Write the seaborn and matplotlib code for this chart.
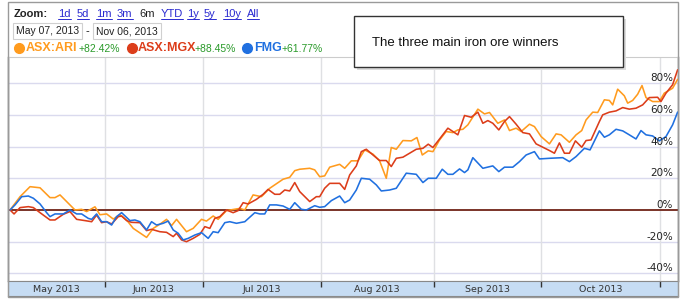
import matplotlib
matplotlib.use("Agg")
import matplotlib.pyplot as plt
import matplotlib.transforms as mtransforms
from matplotlib.patches import Rectangle
from matplotlib.lines import Line2D
import pandas as pd
import seaborn as sns

# ---------------- data (trading days since May 07, 2013 ; % change) ----------------
ari_day = [0, 1.95, 3.89, 5.84, 7.78, 8.75, 9.73, 11.02, 12.65, 13.94, 14.92, 16.54, 17.51, 18.81,
           20.1, 21.4, 22.7, 23.99, 26.59, 27.89, 29.18, 30.48, 31.45, 32.43, 34.37, 35.67, 37.29,
           38.26, 39.56, 40.53, 42.15, 44.75, 45.72, 47.34, 48.96, 50.58, 53.18, 54.47, 55.45, 56.42,
           58.37, 59.34, 60.31, 61.28, 62.26, 64.2,
           65.18, 66.47, 67.77, 69.07, 70.69, 71.98, 73.28, 74.25, 75.23, 76.52, 78.15, 79.25, 80.29,
           81.45, 82.36, 83.66, 84.95, 86.25, 87.22, 88.2, 89.17, 91.12, 92.41, 93.39, 95.01, 96.3,
           97.28, 98.57, 99.55, 101.17, 102.14, 103.44, 105.06, 106.36, 107.33, 108.95, 110.25,
           111.35, 112.19, 113.49, 114.46, 115.76, 116.73, 117.38, 118.35, 119.65, 120.3, 121.27,
           122.24, 123.09, 123.87, 125.16, 126.46, 127.43, 129.05, 130.03]
ari_pct = [0, 8.4, 14.7, 14.0, 7.8, 7.8, 9.5, 5.3, 0, 0.4, -1, 2, -3, -2.5,
           -5.7, -3, -6.3, -11.6, -17.3, -11.6, -9, -5.9, -9.9, -5.9, -13.7, -11.6, -5.9,
           -7, -3.8, -5.9, -0.4, 1, 0, 9.5, 8.4, 13.7, 19.4, 20.6, 24.8, 25.7,
           26.3, 25.3, 21, 21.5, 27, 28.8,
           26.3, 31, 31, 37.9, 35.2, 31, 20, 39.4, 38.3, 43.8, 43.6, 45.7, 34.7,
           37.3, 36.8, 44.2, 49.5, 48.8, 50.5, 50.9, 53.7, 63.6, 60.6, 61.5, 54.7, 56.8,
           50.1, 51.6, 49.5, 54.1, 52.6, 46.3, 41.7, 48, 47.4, 42.7, 47.4,
           50.1, 56.8, 61.7, 61.5, 69.5, 69.1, 66.3, 76.2, 72, 67.4, 69.1,
           73, 78.5, 70.9, 68.4, 68.4, 73.7, 76.8, 82.42]

mgx_day = [0, 0.78, 1.95, 3.57, 4.54, 5.84, 7.78, 8.75, 10.38, 11.67, 12.97, 14.59, 15.89, 16.86,
           17.83, 18.81, 19.78, 21.08, 21.73, 22.7, 23.67, 25.29, 26.59, 27.56, 29.18, 30.48, 31.78,
           32.43, 33.4, 34.37, 35.67, 36.96, 37.94, 38.91, 39.88, 40.86, 42.15, 43.45, 44.42, 45.4,
           46.37, 47.99, 49.29, 50.26, 51.56, 52.53, 53.5, 54.47, 55.45, 56.42, 58.37, 59.66, 60.31,
           61.28, 62.26, 64.2,
           65.18, 66.15, 67.44, 68.42, 69.39, 70.69, 71.98, 73.28, 74.25, 75.23, 76.52, 77.82, 79.12,
           80.42, 81.45, 82.36, 83.66, 85.28, 86.25, 87.22, 88.52, 89.82, 91.12, 92.09, 93.06, 94.03,
           95.2, 96.3, 97.28, 98.57, 99.87, 101.17, 102.46, 103.76, 105.06, 106.03, 107.0, 107.98,
           108.95, 110.12, 111.35, 112.19, 113.16, 114.79, 115.43, 116.73, 118.03, 119.33, 120.62,
           121.92, 123.22, 124.51, 126.13, 126.78, 127.76, 129.05, 130.03]
mgx_pct = [0, -2.5, 1.5, 2.1, 1.5, -1.7, -6.3, -6.3, -2.7, -1, -5.9, -6.7, -7.4, -3.2,
           -8, -7.4, -8.8, -4.2, -3.8, -6.7, -7.8, -8, -13, -12.2, -13.7, -14.1, -16.8,
           -14.7, -18.9, -20, -17.9, -15.4, -10.5, -11.6, -5.3, -4.2, 0, -1.7, -0.4, 4.6,
           3.8, 6.7, 9.9, 13, 9.9, 9.9, 12.6, 12, 17.3, 11.6, 5.3, 8.4, 8.4,
           13.7, 16.8, 16.8,
           13, 22.1, 27.8, 36.8, 38.3, 34.7, 31.2, 31.2, 27.4, 32.6, 33.3, 35.8, 38.3,
           38.9, 41.5, 39.4, 44.8, 51.6, 49.5, 47.4, 59.6, 58.5, 61.7, 54.7, 56.4, 54.7,
           50.5, 55.8, 58.9, 54.1, 48.8, 48, 41.7, 39.6, 37.5, 35.8, 42.3, 35.8,
           35.8, 43.6, 39.6, 43.8, 44.2, 55.8, 60, 61.7, 62.5, 64.6, 63.6,
           64.2, 66.3, 70.9, 71.1, 68.4, 73.7, 79, 88.45]

fmg_day = [0, 0.97, 2.27, 3.57, 4.54, 5.84, 7.13, 7.78, 8.75, 10.38, 11.67, 12.97, 13.94, 15.24,
           15.89, 16.86, 17.83, 18.81, 19.78, 20.75, 21.73, 23.35, 24.32, 25.29, 26.59, 27.56, 28.53,
           29.83, 30.8, 31.78, 32.75, 33.72, 34.7, 35.99, 37.29, 38.59, 39.56, 40.53, 41.83, 42.8,
           44.1, 45.72, 47.67, 48.64, 49.61, 50.58, 51.88, 53.18, 54.47, 55.45, 56.74, 57.72, 59.34,
           60.31, 61.28, 62.58, 64.2,
           65.18, 66.15, 67.44, 68.42, 70.04, 71.34, 72.31, 73.93, 75.23, 77.17, 79.12, 80.42, 81.45,
           83.01, 84.18, 85.28, 86.25, 87.55, 88.52, 89.17, 90.14, 92.09, 94.03, 95.2, 96.3, 97.92,
           99.22, 100.52, 102.14, 103.11, 105.06, 107.65, 108.95, 110.25, 111.87, 112.97, 114.79,
           115.76, 116.73, 118.03, 119.33, 120.62, 121.92, 122.89, 123.87, 125.16, 126.46, 127.76,
           129.05, 130.03]
fmg_pct = [0, 3.2, 8.4, 8.8, 7.4, 3.8, -1.7, -4.2, -2.5, -2.5, 0, -2.5, -2.5, -5.3,
           -5.9, -2.5, -7.4, -7.4, -9.5, -4.2, -1.7, -6.7, -6.3, -7.4, -12.6, -7.4, -9.5,
           -8.4, -7, -12.6, -14.7, -18.9, -17.9, -15.8, -14.3, -17.9, -13.7, -14.3, -8, -7.4,
           -8.4, -7.4, -1.7, -2.5, -2.5, 3.2, 3.2, 2.5, 0.4, 4.6, 0.4, 0, 2.7,
           1.7, 2.1, 5.9, 8.8,
           4.6, 6.3, 12.6, 20, 19.4, 15.8, 12, 12.6, 13.7, 23.2, 22.5, 17.3, 20,
           20, 25.7, 22.5, 22.5, 25.9, 23.6, 25.3, 33, 26.3, 27.8, 24.2, 27, 27,
           30.5, 34.7, 36.8, 32.2, 32.6, 33, 30.5, 33.7, 38.9, 37.9, 49.9,
           45.9, 47.4, 50.9, 49.9, 47.4, 44.8, 50.1, 47.4, 46.7, 43.6, 46.3,
           53.7, 61.77]

series_names = ["ASX:ARI", "ASX:MGX", "FMG"]
final_changes = ["+82.42%", "+88.45%", "+61.77%"]
month_labels = ["May 2013", "Jun 2013", "Jul 2013", "Aug 2013", "Sep 2013", "Oct 2013"]
month_start_idx = [19, 38, 61, 83, 104, 127]   # trading-day index of first day of Jun..Nov
y_ticks = [-40, -20, 0, 20, 40, 60, 80]
zoom_links = ["1d", "5d", "1m", "3m", "6m", "YTD", "1y", "5y", "10y", "All"]
date_from, date_to = "May 07, 2013", "Nov 06, 2013"
note_text = "The three main iron ore winners"

colors = {"ASX:ARI": "#ff9b1e", "ASX:MGX": "#dc3d1a", "FMG": "#2070e0"}

df = pd.concat([
    pd.DataFrame({"day": ari_day, "pct": ari_pct, "series": "ASX:ARI"}),
    pd.DataFrame({"day": mgx_day, "pct": mgx_pct, "series": "ASX:MGX"}),
    pd.DataFrame({"day": fmg_day, "pct": fmg_pct, "series": "FMG"}),
], ignore_index=True)

# ---------------- figure ----------------
sns.set_style("white")
plt.rcParams["font.family"] = ["DejaVu Sans"]

W, H = 684, 299
fig = plt.figure(figsize=(W / 100, H / 100), dpi=100)
fx = lambda x: x / W
fy = lambda y: 1 - y / H

XL, XR, YT, YB = 8, 678, 57, 281
ax = fig.add_axes([fx(XL), fy(YB), fx(XR) - fx(XL), fy(YT) - fy(YB)])
xlim = (-0.4, 130.1)
ylim = (-44.8, 96.5)

boundaries = [m - 0.5 for m in month_start_idx]
for v in y_ticks:
    if v != 0:
        ax.axhline(v, color="#dadaee", lw=1.0, zorder=0)
for b in boundaries:
    ax.axvline(b, color="#dfe0e3", lw=1.0, zorder=0)
ax.axhline(0, color="#7a3328", lw=1.4, zorder=1.5)

sns.lineplot(data=df, x="day", y="pct", hue="series", hue_order=series_names,
             palette=colors, estimator=None, sort=False, legend=False,
             linewidth=1.15, ax=ax, zorder=3)
ax.set_xlim(*xlim)
ax.set_ylim(*ylim)
ax.set_xticks([])
ax.set_yticks([])
ax.set_xlabel("")
ax.set_ylabel("")
for side in ["left", "right"]:
    ax.spines[side].set_color("#555555")
    ax.spines[side].set_linewidth(1.0)
ax.spines["top"].set_color("#cccccc")
ax.spines["bottom"].set_color("#aaaaaa")

lab_tr = mtransforms.offset_copy(
    mtransforms.blended_transform_factory(ax.transAxes, ax.transData),
    fig=fig, x=0, y=5, units="dots")
for v in y_ticks:
    ax.text(1 - 5 / (XR - XL), v, f"{v}%", transform=lab_tr, ha="right", va="center",
            fontsize=7.5, color="#222222", zorder=4)

# month band
bax = fig.add_axes([fx(XL), fy(296), fx(XR) - fx(XL), fy(YB) - fy(296)])
bax.set_facecolor("#c6dcf3")
bax.set_xlim(*xlim)
bax.set_ylim(0, 1)
bax.set_xticks([])
bax.set_yticks([])
for s in bax.spines.values():
    s.set_color("#888888")
    s.set_linewidth(0.8)
bax.vlines(boundaries, 0.62, 1.0, color="#333333", lw=1.0)
edges = [xlim[0]] + boundaries
for i, lab in enumerate(month_labels):
    c = (edges[i] + edges[i + 1]) / 2
    bax.text(c, 0.42, lab, ha="center", va="center", fontsize=6.8, color="#333333")

# outer frame
fig.add_artist(Rectangle((fx(XL), fy(297)), fx(XR) - fx(XL), fy(2) - fy(297),
                         transform=fig.transFigure, fill=False, ec="#9a9a9a", lw=1.0, zorder=0.5))

# header: zoom links
fig.text(fx(14), fy(14), "Zoom:", fontsize=8, fontweight="bold", color="#222222",
         va="center", ha="left", family=["Liberation Sans", "DejaVu Sans"])
link_x = [58, 77, 96, 117, 139, 161, 187, 204, 223, 247]
link_texts = []
for lx, lab in zip(link_x, zoom_links):
    col = "#222222" if lab == "6m" else "#2a2ad0"
    t = fig.text(fx(lx), fy(14), lab, fontsize=8, color=col, va="center", ha="left",
                 family=["Liberation Sans", "DejaVu Sans"])
    if lab != "6m":
        link_texts.append(t)

box = dict(boxstyle="square,pad=0.3", fc="white", ec="#d0d0d0", lw=0.8)
fig.text(fx(16), fy(31), date_from, fontsize=7.5, color="#222222", va="center", ha="left",
         bbox=box, family=["Liberation Sans", "DejaVu Sans"])
fig.text(fx(85), fy(31), "-", fontsize=7.5, color="#222222", va="center", ha="left")
fig.text(fx(96), fy(31), date_to, fontsize=7.5, color="#222222", va="center", ha="left",
         bbox=box, family=["Liberation Sans", "DejaVu Sans"])

# legend row
leg_dot_x = [19, 132, 247]
leg_name_x = [26, 138, 254]
leg_chg_x = [79, 195, 282]
for i, name in enumerate(series_names):
    fig.add_artist(Line2D([fx(leg_dot_x[i])], [fy(48)], marker="o", ms=7, color=colors[name],
                          mec=colors[name], transform=fig.transFigure))
    fig.text(fx(leg_name_x[i]), fy(48), name, fontsize=9, fontweight="bold", color=colors[name],
             va="center", ha="left", family=["Liberation Sans", "DejaVu Sans"])
    fig.text(fx(leg_chg_x[i]), fy(49), final_changes[i], fontsize=7.5, color="#2a9a2a",
             va="center", ha="left", family=["Liberation Sans", "DejaVu Sans"])

# annotation box with shadow
bx0, bx1, by0, by1 = 354, 623, 16, 67
fig.add_artist(Rectangle((fx(bx0 + 3), fy(by1 + 3)), fx(bx1) - fx(bx0), fy(by0) - fy(by1),
                         transform=fig.transFigure, fc="#dcdcdc", ec="none", zorder=5))
fig.add_artist(Rectangle((fx(bx0), fy(by1)), fx(bx1) - fx(bx0), fy(by0) - fy(by1),
                         transform=fig.transFigure, fc="white", ec="#333333", lw=1.0, zorder=6))
fig.text(fx(372), fy(43), note_text, fontsize=9.5, color="#111111", va="center", ha="left",
         zorder=7, family=["Liberation Sans", "DejaVu Sans"])

# underline links
fig.canvas.draw()
r = fig.canvas.get_renderer()
for t in link_texts:
    bb = t.get_window_extent(renderer=r)
    yline = bb.y0 + 0.5
    fig.add_artist(Line2D([bb.x0 / W, bb.x1 / W], [yline / H, yline / H], color="#2a2ad0",
                          lw=0.7, transform=fig.transFigure))

fig.savefig("out.png", dpi=100)
